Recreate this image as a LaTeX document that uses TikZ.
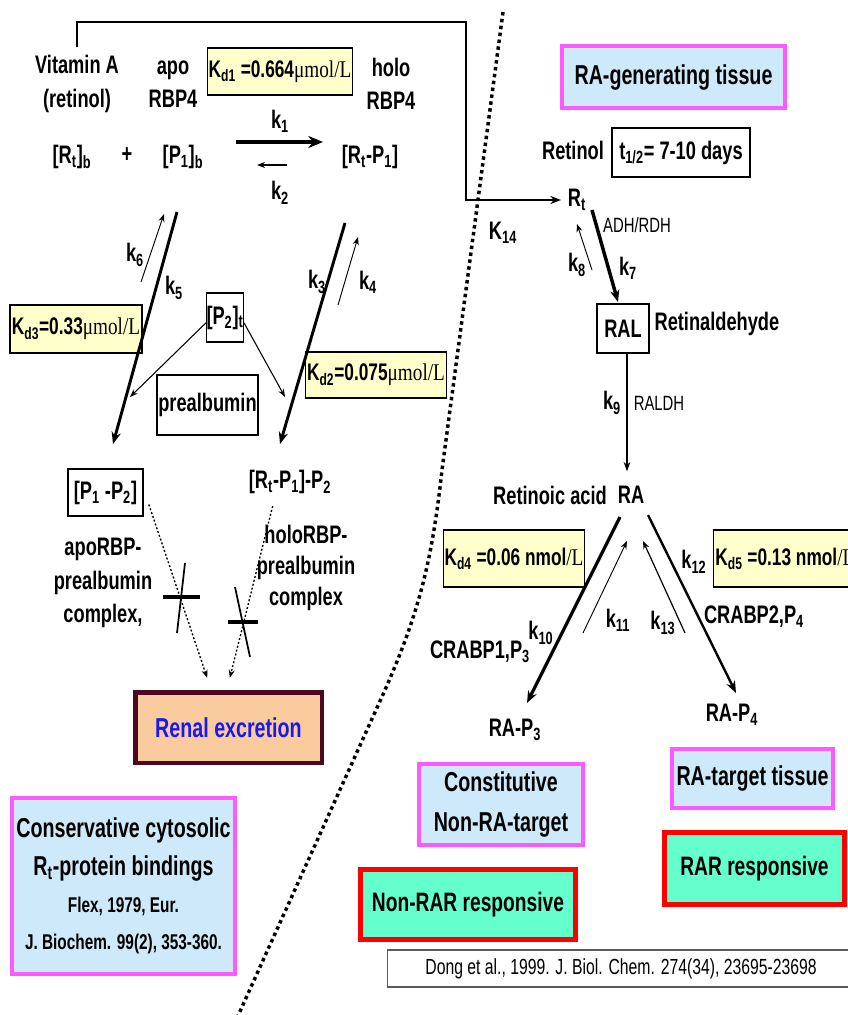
\documentclass[tikz,border=0pt]{standalone}
\usepackage{fontspec}
\setmainfont{Liberation Sans}[FakeStretch=0.72]
\newfontfamily\serifmol{Liberation Serif}[FakeStretch=0.8]
\usetikzlibrary{arrows.meta}
\newcommand{\subs}[1]{\textsubscript{#1}}
\definecolor{kdyellow}{RGB}{255,255,204}
\definecolor{tissueblue}{RGB}{206,234,250}
\definecolor{tissuemag}{RGB}{255,90,255}
\definecolor{respgreen}{RGB}{100,255,205}
\definecolor{renalfill}{RGB}{251,203,160}
\definecolor{renalline}{RGB}{75,8,30}
\definecolor{renaltext}{RGB}{25,25,235}
\definecolor{refline}{RGB}{90,90,90}

\begin{document}
\begin{tikzpicture}[x=0.75pt,y=-0.75pt,
	lbl/.style={font=\bfseries\fontsize{19}{25}\selectfont, inner sep=1pt, align=center},
	sml/.style={font=\fontsize{15.5}{18}\selectfont, inner sep=1pt},
	kd/.style={draw, line width=0.8pt, fill=kdyellow, font=\bfseries\fontsize{18}{20}\selectfont, inner sep=1pt},
	plainbox/.style={draw, line width=0.8pt, font=\bfseries\fontsize{19}{21}\selectfont, inner sep=1pt},
	tissue/.style={draw=tissuemag, line width=3pt, fill=tissueblue, font=\bfseries\fontsize{20.5}{30}\selectfont, align=center, inner sep=1pt},
	resp/.style={draw=red, line width=4pt, fill=respgreen, font=\bfseries\fontsize{20}{30}\selectfont, inner sep=1pt},
	thinarr/.style={-{Stealth[length=6pt,width=4.5pt]}, line width=0.7pt},
	fatarr/.style={-{Stealth[length=9pt,width=7pt]}, line width=2.2pt},
	bigarr/.style={-{Stealth[length=11pt,width=9pt]}, line width=3.5pt},
	midarr/.style={-{Stealth[length=7pt,width=5pt]}, line width=1.1pt},
	dotarr/.style={-{Stealth[length=6pt,width=4.5pt]}, line width=1pt, dash pattern=on 1.5pt off 1.5pt},
	divider/.style={line width=2.6pt, dash pattern=on 2.6pt off 2.6pt},
	]
	\useasboundingbox (0,0) rectangle (848,1015);
	\fill[white] (0,0) rectangle (848,1015);
	% plasma | tissue
	\draw[divider] (503,12) -- (442,470) .. controls (432,560) and (420,610) .. (385,690) -- (237,1018);

	% plasma side
	\node[lbl] (vitA) at (77,84) {Vitamin A\\(retinol)};
	\node[lbl] (apo) at (173,84) {apo\\RBP4};
	\node[kd, minimum width=108.75pt, minimum height=35.25pt] (kd1) at (280,71.5) {K\subs{d1} =0.664{\serifmol\mdseries μmol/L}};
	\node[lbl] (holo) at (391,84) {holo\\RBP4};
	\node[lbl] (k1) at (280,121) {k\subs{1}};
	\node[lbl] (rtb) at (72,157) {[R\subs{t}]\subs{b}};
	\node[lbl] (plus) at (127,155) {+};
	\node[lbl] (p1b) at (183,157) {[P\subs{1}]\subs{b}};
	\node[lbl] (rtp1) at (370,157) {[R\subs{t}-P\subs{1}]};
	\node[lbl] (k2) at (280,193) {k\subs{2}};
	\coordinate (k1s) at (236,142);
	\coordinate (k1e) at (323,142);
	\coordinate (k2s) at (287,165);
	\coordinate (k2e) at (257,165);
	\draw[bigarr] (k1s) -- (k1e);
	\draw[thinarr, line width=1pt] (k2s) -- (k2e);

	\node[kd, minimum width=99pt, minimum height=36pt] (kd3) at (76,329) {K\subs{d3}=0.33{\serifmol\mdseries μmol/L}};
	\node[kd, minimum width=103.5pt, minimum height=34.5pt] (kd2) at (376,375) {K\subs{d2}=0.075{\serifmol\mdseries μmol/L}};
	\node[plainbox, minimum width=27pt, minimum height=36.75pt, inner sep=0pt] (p2) at (225,317.5) {[P\subs{2}]\subs{t}};
	\node[plainbox, minimum width=75.75pt, minimum height=45pt] (preal) at (207.5,405) {prealbumin};
	\coordinate (k5s) at (177,212);
	\coordinate (k5e) at (113,444);
	\coordinate (k6s) at (141,282);
	\coordinate (k6e) at (164,214);
	\coordinate (k3s) at (345,223);
	\coordinate (k3e) at (280,444);
	\coordinate (k4s) at (338,305);
	\coordinate (k4e) at (358,237);
	\draw[fatarr] (k5s) -- (k5e);
	\draw[thinarr] (k6s) -- (k6e);
	\draw[fatarr] (k3s) -- (k3e);
	\draw[thinarr] (k4s) -- (k4e);
	\node[lbl] (k6) at (135,255) {k\subs{6}};
	\node[lbl] (k5) at (174,288) {k\subs{5}};
	\node[lbl] (k3) at (317,282) {k\subs{3}};
	\node[lbl] (k4) at (368,282) {k\subs{4}};
	\coordinate (p2l) at (130,397);
	\coordinate (p2r) at (285,397);
	\draw[thinarr, line width=0.8pt] ([yshift=-4pt]p2.west) -- (p2l);
	\draw[thinarr, line width=0.8pt] ([yshift=-4pt]p2.east) -- (p2r);

	\node[plainbox, minimum width=56.25pt, minimum height=35.25pt] (p1p2) at (105.5,492.5) {[P\subs{1} -P\subs{2}]};
	\node[lbl] (rtp1p2) at (290,482) {[R\subs{t}-P\subs{1}]-P\subs{2}};
	\node[lbl] (apocx) at (103,583) {apoRBP-\\prealbumin\\complex,};
	\node[lbl, font=\bfseries\fontsize{19}{23.5}\selectfont] (holocx) at (306,568) {holoRBP-\\prealbumin\\complex};
	\node[draw=renalline, line width=3.5pt, fill=renalfill, text=renaltext, font=\bfseries\fontsize{20.5}{22}\selectfont, minimum width=140pt, minimum height=53pt] (renal) at (228.5,727.5) {Renal excretion};
	\draw[dotarr] ([xshift=4pt,yshift=-9pt]p1p2.east) -- ([xshift=-16pt,yshift=9pt]renal.north);
	\draw[dotarr] ([xshift=-13pt,yshift=-8pt]rtp1p2.south) -- ([xshift=1pt,yshift=9pt]renal.north);
	% no excretion
	\draw[line width=3pt] (163,597) -- (200,597);
	\draw[line width=1.3pt] (185,563) -- (177,633);
	\draw[line width=3pt] (228,622) -- (258,622);
	\draw[line width=1.3pt] (235,587) -- (250,657);

	\node[tissue, font=\bfseries\fontsize{20.5}{28}\selectfont, minimum width=167pt, minimum height=132pt] (cons) at (123.5,886) {Conservative cytosolic\\R\subs{t}-protein bindings\\{\fontsize{16}{18}\selectfont Flex, 1979, Eur.}\\{\fontsize{16}{18}\selectfont J. Biochem. 99(2), 353-360.}};

	% tissue side
	\node[tissue, minimum width=167pt, minimum height=46.5pt] (ragen) at (673.5,77) {RA-generating tissue};
	\node[lbl] (retinol) at (573,150) {Retinol};
	\node[plainbox, minimum width=103.5pt, minimum height=36.75pt] (thalf) at (681,152.5) {t\subs{1/2}= 7-10 days};
	\node[lbl] (rt) at (577,200) {R\subs{t}};
	\node[lbl] (k14) at (503,233) {K\subs{14}};
	\coordinate (turn) at (466,22);
	\draw[line width=1.5pt, -{Stealth[length=8pt,width=6pt]}, shorten <=5pt, shorten >=4pt] (vitA.north) |- (turn) |- (rt.west);
	\node[sml] (adh) at (637,225) {ADH/RDH};
	\node[plainbox, minimum width=39pt, minimum height=36.75pt] (ral) at (623,328.5) {RAL};
	\node[lbl, anchor=west] (retald) at (653,324) {Retinaldehyde};
	\coordinate (k7s) at (592,210);
	\coordinate (k7e) at (618,302);
	\coordinate (k8s) at (592,270);
	\coordinate (k8e) at (577,224);
	\draw[fatarr, line width=2.6pt] (k7s) -- (k7e);
	\draw[thinarr] (k8s) -- (k8e);
	\node[lbl] (k8) at (577,265) {k\subs{8}};
	\node[lbl] (k7) at (628,268) {k\subs{7}};
	\node[lbl] (retacid) at (550,495) {Retinoic acid};
	\node[lbl] (ra) at (631,495) {RA};
	\draw[midarr, shorten >=10pt] ([xshift=3pt]ral.south) -- ([xshift=-3pt]ra.north);
	\node[lbl] (k9) at (612,403) {k\subs{9}};
	\node[sml] (raldh) at (659,403) {RALDH};

	\node[kd, minimum width=103.5pt, minimum height=42.75pt] (kd4) at (514,558.5) {K\subs{d4} =0.06 nmol{\serifmol\mdseries /L}};
	\node[kd, anchor=west, minimum width=107pt, minimum height=42.75pt] (kd5) at (713,558.5) {K\subs{d5} =0.13 nmol{\serifmol\mdseries /L}};
	\coordinate (k10s) at (620,517);
	\coordinate (k10e) at (527,703);
	\coordinate (k11s) at (583,633);
	\coordinate (k11e) at (627,541);
	\coordinate (k13s) at (685,633);
	\coordinate (k13e) at (643,541);
	\coordinate (k12s) at (648,515);
	\coordinate (k12e) at (736,693);
	\draw[fatarr, line width=2.4pt] (k10s) -- (k10e);
	\draw[thinarr] (k11s) -- (k11e);
	\draw[thinarr, line width=0.9pt] (k13s) -- (k13e);
	\draw[fatarr, line width=1.8pt] (k12s) -- (k12e);
	\node[lbl] (k10) at (541,633) {k\subs{10}};
	\node[lbl] (crabp1) at (480,652) {CRABP1,P\subs{3}};
	\node[lbl] (k11) at (618,620) {k\subs{11}};
	\node[lbl] (k13) at (663,623) {k\subs{13}};
	\node[lbl] (k12) at (694,562) {k\subs{12}};
	\node[lbl] (crabp2) at (754,617) {CRABP2,P\subs{4}};
	\node[lbl] (rap3) at (515,730) {RA-P\subs{3}};
	\node[lbl] (rap4) at (732,715) {RA-P\subs{4}};

	\node[tissue, minimum width=123pt, minimum height=60.75pt] (const) at (501,804.5) {Constitutive\\Non-RA-target};
	\node[tissue, minimum width=120.75pt, minimum height=44.25pt] (ratarget) at (752.5,778.5) {RA-target tissue};
	\node[resp, minimum width=134.75pt, minimum height=53.75pt] (rar) at (754.5,868.5) {RAR responsive};
	\node[resp, minimum width=161pt, minimum height=52.25pt] (nonrar) at (468,904.5) {Non-RAR responsive};
	\node[draw=refline, line width=1pt, anchor=west, minimum width=350pt, minimum height=27.75pt, font=\fontsize{16.4}{18}\selectfont] (dong) at (387,968.5) {Dong et al., 1999. J. Biol. Chem. 274(34), 23695-23698};
\end{tikzpicture}
\end{document}
